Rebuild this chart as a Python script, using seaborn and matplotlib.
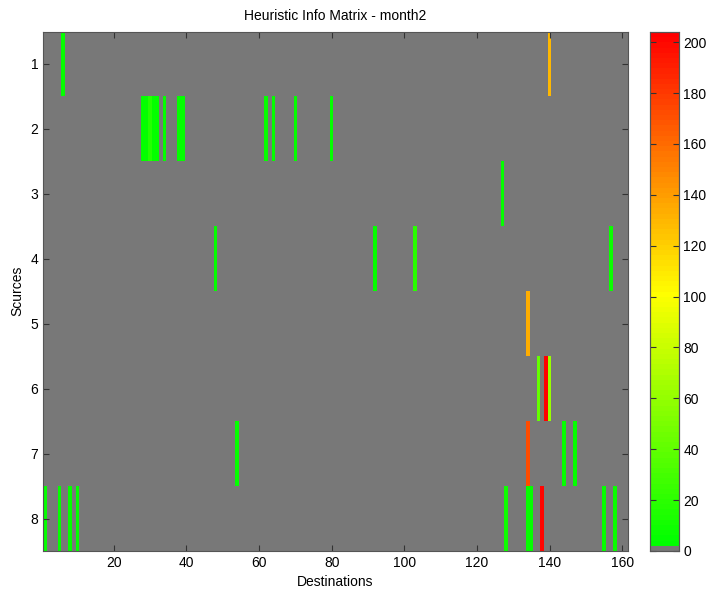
import numpy as np
import pandas as pd
import matplotlib
matplotlib.use("Agg")
import matplotlib.pyplot as plt
import seaborn as sns
from matplotlib.colors import LinearSegmentedColormap, ListedColormap

# non-zero cells of the 8 x 161 matrix: (source row, destination column, value)
src_rows = [1, 1,
            2, 2, 2, 2, 2, 2, 2, 2, 2, 2, 2, 2,
            3,
            4, 4, 4, 4,
            5,
            6, 6, 6,
            7, 7, 7, 7,
            8, 8, 8, 8, 8, 8, 8, 8, 8, 8]
dst_cols = [6, 140,
            28, 29, 30, 31, 32, 34, 38, 39, 62, 64, 70, 80,
            127,
            48, 92, 103, 157,
            134,
            137, 139, 140,
            54, 134, 144, 147,
            1, 5, 8, 10, 128, 134, 135, 138, 155, 158]
values = [6, 130,
          6, 6, 18, 6, 6, 6, 6, 6, 6, 6, 6, 6,
          6,
          6, 6, 20, 8,
          134,
          42, 204, 62,
          6, 172, 6, 6,
          6, 6, 6, 6, 10, 6, 6, 200, 6, 8]
n_sources = 8
n_dest = 161
cbar_ticks = [0, 20, 40, 60, 80, 100, 120, 140, 160, 180, 200]
x_ticks = [20, 40, 60, 80, 100, 120, 140, 160]

mat = np.zeros((n_sources, n_dest))
for r, c, v in zip(src_rows, dst_cols, values):
    mat[r - 1, c - 1] = v
df = pd.DataFrame(mat, index=range(1, n_sources + 1), columns=range(1, n_dest + 1))

# matlab-like map: first entry gray for zeros, then green -> yellow -> red
grad = LinearSegmentedColormap.from_list("gyr", [(0, "#00ff00"), (0.49, "#ffff00"), (1, "#ff0000")])
colors = [(0.47, 0.47, 0.47, 1.0)] + [grad(i / 98) for i in range(99)]
cmap = ListedColormap(colors)

plt.rcParams["font.family"] = ["Liberation Sans", "DejaVu Sans"]
fig = plt.figure(figsize=(7.09, 5.92), dpi=100)
ax = fig.add_axes([43 / 709, 1 - 551 / 592, (627.6 - 43) / 709, (551 - 31.5) / 592])
cax = fig.add_axes([649.5 / 709, 1 - 551 / 592, 29 / 709, (551 - 32) / 592])

sns.heatmap(df, ax=ax, cbar_ax=cax, cmap=cmap, vmin=0, vmax=204,
            xticklabels=False, yticklabels=False)

ax.set_xticks([t - 0.5 for t in x_ticks])
ax.set_xticklabels([str(t) for t in x_ticks], fontsize=10, rotation=0)
ax.set_yticks([i + 0.5 for i in range(n_sources)])
ax.set_yticklabels([str(i) for i in range(1, n_sources + 1)], fontsize=10, rotation=0)
ax.tick_params(direction="in", length=4, color="#333333", top=True, right=True,
               labeltop=False, labelright=False)
for s in ax.spines.values():
    s.set_visible(True)
    s.set_color("#555555")
    s.set_linewidth(0.8)
ax.set_xlabel("Destinations", fontsize=10)
ax.set_ylabel("Scurces", fontsize=10)
ax.set_title("Heuristic Info Matrix - month2", fontsize=10, pad=8)

cax.set_yticks(cbar_ticks)
cax.set_yticklabels([str(t) for t in cbar_ticks], fontsize=10)
cax.tick_params(direction="in", length=4, left=True, right=True, color="#333333")
for s in cax.spines.values():
    s.set_visible(True)
    s.set_color("#555555")
    s.set_linewidth(0.8)

fig.savefig("out.png", dpi=100)
